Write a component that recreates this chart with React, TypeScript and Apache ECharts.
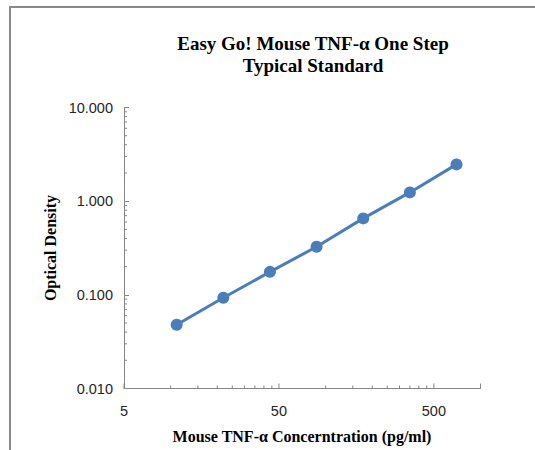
import React, { useEffect, useRef } from "react";
import * as echarts from "echarts";

// ---- data ----
const concentrations = [10.94, 21.88, 43.75, 87.5, 175, 350, 700];
const opticalDensity = [0.048, 0.093, 0.176, 0.326, 0.655, 1.24, 2.47];

const X_MIN = 5;
const X_MAX = 1000;
const Y_MIN = 0.01;
const Y_MAX = 10;

const xMajorTicks = [5, 50, 500, 1000];
const xMinorTicks = [10, 15, 20, 25, 30, 35, 40, 45, 100, 150, 200, 250, 300, 350, 400, 450];
const xTickLabelValues = [5, 50, 500];
const xTickLabels = ["5", "50", "500"];
const yMinorTicks = [
  0.02, 0.03, 0.04, 0.05, 0.06, 0.07, 0.08, 0.09,
  0.2, 0.3, 0.4, 0.5, 0.6, 0.7, 0.8, 0.9,
  2, 3, 4, 5, 6, 7, 8, 9,
];

const titleLines = ["Easy Go! Mouse TNF-\u03b1 One Step", "Typical Standard"];
const xAxisName = "Mouse TNF-\u03b1 Concerntration (pg/ml)";
const yAxisName = "Optical Density";

const AXIS_COLOR = "#868686";
const LINE_COLOR = "#4A7EBB";
const LABEL_COLOR = "#262626";
const SERIF = "'Liberation Serif', 'Times New Roman', serif";
const SANS = "'Liberation Sans', Arial, sans-serif";

export default function App() {
  const ref = useRef<HTMLDivElement>(null);

  useEffect(() => {
    if (!ref.current) return;
    const chart = echarts.init(ref.current, undefined, { renderer: "svg" });

    const xTickData = [
      ...xMajorTicks.map((v) => [v, Y_MIN, 1]),
      ...xMinorTicks.map((v) => [v, Y_MIN, 0]),
    ];

    const option: any = {
      animation: false,
      backgroundColor: "#ffffff",
      grid: { left: 124, top: 107.5, width: 356.5, height: 281, containLabel: false },
      xAxis: {
        type: "log",
        logBase: 10,
        min: X_MIN,
        max: X_MAX,
        axisLine: { show: true, lineStyle: { color: AXIS_COLOR, width: 1 } },
        axisTick: { show: false },
        axisLabel: { show: false },
        splitLine: { show: false },
        minorTick: { show: false },
      },
      yAxis: {
        type: "log",
        logBase: 10,
        min: Y_MIN,
        max: Y_MAX,
        axisLine: { show: true, lineStyle: { color: AXIS_COLOR, width: 1 } },
        axisTick: { show: true, inside: true, length: 5, lineStyle: { color: AXIS_COLOR, width: 1 } },
        axisLabel: {
          show: true,
          margin: 11,
          color: LABEL_COLOR,
          fontFamily: SANS,
          fontSize: 14.5,
          formatter: (v: number) => Number(v).toFixed(3),
        },
        splitLine: { show: false },
      },
      graphic: [
        {
          type: "polyline",
          shape: { points: [[10, 450], [10, 7], [535, 7]] },
          style: { stroke: "#8a8a8a", lineWidth: 2, fill: "none" },
          silent: true,
        },
        {
          type: "text",
          x: 313,
          y: 43,
          style: {
            text: titleLines[0],
            fontFamily: SERIF,
            fontWeight: "bold",
            fontSize: 19,
            fill: "#000000",
            textAlign: "center",
            textVerticalAlign: "middle",
          },
        },
        {
          type: "text",
          x: 313,
          y: 65.5,
          style: {
            text: titleLines[1],
            fontFamily: SERIF,
            fontWeight: "bold",
            fontSize: 19,
            fill: "#000000",
            textAlign: "center",
            textVerticalAlign: "middle",
          },
        },
        {
          type: "text",
          x: 302,
          y: 436,
          style: {
            text: xAxisName,
            fontFamily: SERIF,
            fontWeight: "bold",
            fontSize: 16,
            fill: "#000000",
            textAlign: "center",
            textVerticalAlign: "middle",
          },
        },
        {
          type: "text",
          x: 50,
          y: 248,
          rotation: Math.PI / 2,
          style: {
            text: yAxisName,
            fontFamily: SERIF,
            fontWeight: "bold",
            fontSize: 16,
            fill: "#000000",
            textAlign: "center",
            textVerticalAlign: "middle",
          },
        },
      ],
      series: [
        {
          type: "custom",
          name: "xTicks",
          silent: true,
          clip: false,
          encode: { x: 0, y: 1 },
          data: xTickData,
          renderItem: (params: any, api: any) => {
            const v = api.value(0);
            const major = api.value(2);
            const p = api.coord([v, Y_MIN]);
            const len = major ? 5 : 3;
            return {
              type: "line",
              shape: { x1: p[0], y1: p[1], x2: p[0], y2: p[1] - len },
              style: { stroke: AXIS_COLOR, lineWidth: 1 },
            };
          },
          z: 3,
        },
        {
          type: "custom",
          name: "xLabels",
          silent: true,
          clip: false,
          encode: { x: 0, y: 1 },
          data: xTickLabelValues.map((v) => [v, Y_MIN]),
          renderItem: (params: any, api: any) => {
            const p = api.coord([api.value(0), Y_MIN]);
            return {
              type: "text",
              x: p[0],
              y: p[1] + 22,
              style: {
                text: xTickLabels[params.dataIndex],
                fontFamily: SANS,
                fontSize: 14.5,
                fill: LABEL_COLOR,
                textAlign: "center",
                textVerticalAlign: "middle",
              },
            };
          },
          z: 3,
        },
        {
          type: "custom",
          name: "yMinorTicks",
          silent: true,
          clip: false,
          encode: { x: 0, y: 1 },
          data: yMinorTicks.map((v) => [X_MIN, v]),
          renderItem: (params: any, api: any) => {
            const p = api.coord([X_MIN, api.value(1)]);
            return {
              type: "line",
              shape: { x1: p[0], y1: p[1], x2: p[0] + 3, y2: p[1] },
              style: { stroke: AXIS_COLOR, lineWidth: 1 },
            };
          },
          z: 3,
        },
        {
          type: "line",
          name: "Standard",
          data: concentrations.map((c, i) => [c, opticalDensity[i]]),
          symbol: "circle",
          symbolSize: 12,
          lineStyle: { color: LINE_COLOR, width: 3 },
          itemStyle: { color: LINE_COLOR },
          z: 5,
        },
      ],
    };

    chart.setOption(option);
    return () => {
      chart.dispose();
    };
  }, []);

  return (
    <div
      ref={ref}
      style={{ position: "absolute", left: 0, top: 0, width: 535, height: 450, background: "#fff" }}
    />
  );
}
